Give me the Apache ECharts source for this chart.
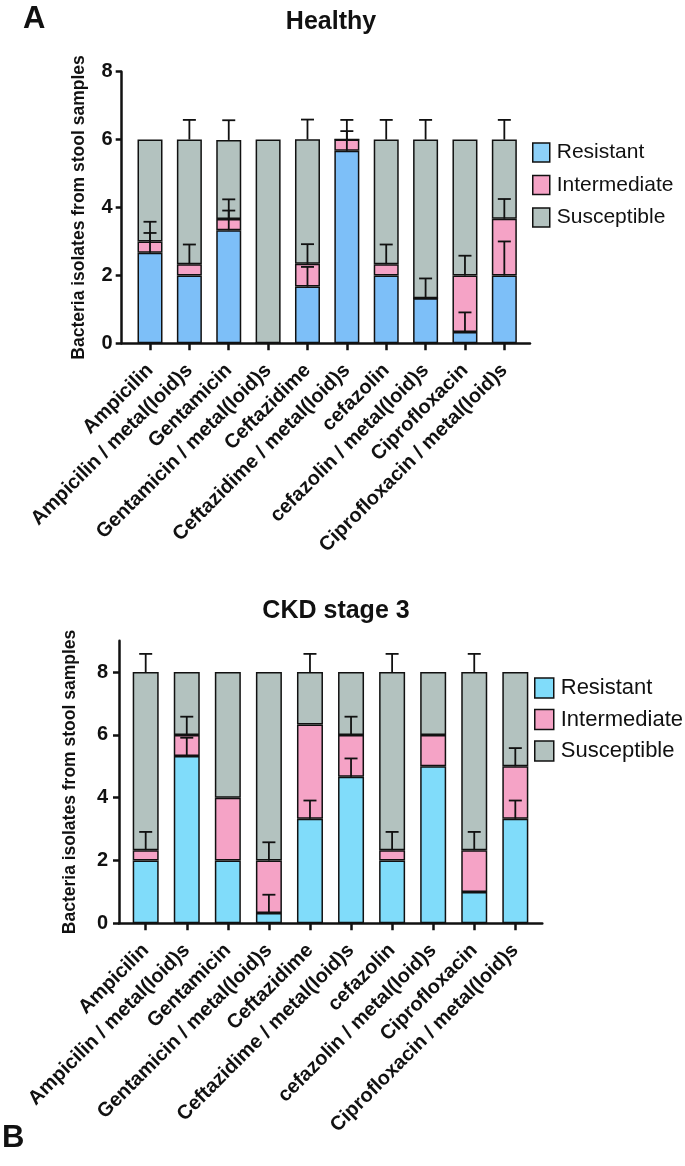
<!DOCTYPE html>
<html>
<head>
<meta charset="utf-8">
<script src="https://cdn.jsdelivr.net/npm/echarts@6/dist/echarts.min.js"></script>
<style>
html,body{margin:0;padding:0;background:#fff;}
#chart{width:685px;height:1166px;}
</style>
</head>
<body>
<div id="chart"></div>
<script>
// ---- Data ----
var categories = ['Ampicilin', 'Ampicilin / metal(loid)s', 'Gentamicin', 'Gentamicin / metal(loid)s',
  'Ceftazidime', 'Ceftazidime / metal(loid)s', 'cefazolin', 'cefazolin / metal(loid)s',
  'Ciprofloxacin', 'Ciprofloxacin / metal(loid)s'];
var seriesNames = ['Resistant', 'Intermediate', 'Susceptible'];

// Healthy
var healthyResistant    = [2.67, 2, 3.33, 0, 1.67, 5.67, 2, 1.33, 0.33, 2];
var healthyIntermediate = [0.33, 0.33, 0.33, 0, 0.67, 0.33, 0.33, 0, 1.67, 1.67];
var healthySusceptible  = [3, 3.67, 2.33, 6, 3.67, 0, 3.67, 4.67, 4, 2.33];
var healthyErrResistant    = [0.58, null, 0.58, null, 0.58, 0.58, null, 0.58, 0.58, 1.0];
var healthyErrIntermediate = [0.58, 0.58, 0.58, null, 0.58, 0.58, 0.58, null, 0.58, 0.58];
var healthyErrSusceptible  = [null, 0.58, 0.58, null, 0.58, null, 0.58, 0.58, null, 0.58];

// CKD stage 3
var ckdResistant    = [2, 5.33, 2, 0.33, 3.33, 4.67, 2, 5, 1, 3.33];
var ckdIntermediate = [0.33, 0.67, 2, 1.67, 3, 1.33, 0.33, 1, 1.33, 1.67];
var ckdSusceptible  = [5.67, 2, 4, 6, 1.67, 2, 5.67, 2, 5.67, 3];
var ckdErrResistant    = [null, 0.58, null, 0.58, 0.58, 0.58, null, null, null, 0.58];
var ckdErrIntermediate = [0.58, 0.58, null, 0.58, null, 0.58, 0.58, null, 0.58, 0.58];
var ckdErrSusceptible  = [0.58, null, null, null, 0.58, null, 0.58, null, 0.58, null];

var healthyTicks = [0, 2, 4, 6, 8];
var ckdTicks = [0, 2, 4, 6, 8];

// ---- Styles ----
var FONT = 'Liberation Sans, Arial, Helvetica, sans-serif';
var cTopR = '#7dbff8', cBotR = '#80dcfa', cI = '#f5a3c6', cS = '#b3c2bf';
var idx = categories.map(function (c, i) { return i; });

// value first (stacked dimension), category index second
function pairs(vals) { return vals.map(function (v, i) { return [v, i]; }); }

function errData(segs, errs) {
  var out = [];
  for (var i = 0; i < categories.length; i++) {
    var cum = 0;
    for (var k = 0; k < segs.length; k++) {
      cum += segs[k][i];
      if (errs[k][i] != null) out.push([i, cum, cum + errs[k][i]]);
    }
  }
  return out;
}

function errSeries(xi, data) {
  return {
    type: 'custom', xAxisIndex: xi, yAxisIndex: xi, z: 5, silent: true,
    data: data,
    encode: { x: 0, y: [1, 2] },
    renderItem: function (params, api) {
      var b = api.coord([api.value(0), api.value(1)]);
      var t = api.coord([api.value(0), api.value(2)]);
      var hw = 6.5;
      var st = { stroke: '#111', lineWidth: 1.8 };
      return { type: 'group', children: [
        { type: 'line', shape: { x1: b[0], y1: b[1], x2: t[0], y2: t[1] }, style: st },
        { type: 'line', shape: { x1: t[0] - hw, y1: t[1], x2: t[0] + hw, y2: t[1] }, style: st }
      ]};
    }
  };
}

function barSeries(name, xi, vals, color, bw) {
  return {
    name: name, type: 'bar', stack: 'g' + xi, xAxisIndex: xi, yAxisIndex: xi,
    barWidth: bw, data: pairs(vals), encode: { x: 1, y: 0 },
    itemStyle: { color: color, borderColor: '#111', borderWidth: 1.5 },
    emphasis: { disabled: true }
  };
}

function xAxisCfg(gi, min, max) {
  return {
    type: 'value', gridIndex: gi, min: min, max: max,
    splitLine: { show: false },
    axisLine: { show: true, onZero: false, lineStyle: { color: '#111', width: 2.5 } },
    axisTick: { show: true, length: 7, customValues: idx, lineStyle: { color: '#111', width: 2.5 } },
    axisLabel: {
      customValues: idx, rotate: 45, margin: 24, color: '#111',
      fontFamily: FONT, fontWeight: 'bold', fontSize: 20,
      formatter: function (v) { return categories[Math.round(v)]; }
    }
  };
}

function yAxisCfg(gi, max, ticks, gap, margin) {
  return {
    type: 'value', gridIndex: gi, min: 0, max: max,
    name: 'Bacteria isolates from stool samples', nameLocation: 'middle', nameGap: gap,
    nameTextStyle: { fontFamily: FONT, fontWeight: 'bold', fontSize: 17.5, color: '#111' },
    splitLine: { show: false },
    axisLine: { show: true, onZero: false, lineStyle: { color: '#111', width: 2.5 } },
    axisTick: { show: true, length: 6, customValues: ticks, lineStyle: { color: '#111', width: 2.5 } },
    axisLabel: { customValues: ticks, margin: margin, color: '#111', fontFamily: FONT, fontWeight: 'bold', fontSize: 20 }
  };
}

var chart = echarts.init(document.getElementById('chart'), null, { renderer: 'canvas' });

var option = {
  backgroundColor: '#fff',
  animation: false,
  title: [
    { text: 'Healthy', left: 326, top: 5, textAlign: 'center',
      textStyle: { fontFamily: FONT, fontWeight: 'bold', fontSize: 25, color: '#111' } },
    { text: 'CKD stage 3', left: 331, top: 594, textAlign: 'center',
      textStyle: { fontFamily: FONT, fontWeight: 'bold', fontSize: 25, color: '#111' } }
  ],
  graphic: [
    { type: 'text', left: 23, top: 4, style: { text: 'A', fontFamily: FONT, fontWeight: 'bold', fontSize: 31, fill: '#111' } },
    { type: 'text', left: 2, top: 1123, style: { text: 'B', fontFamily: FONT, fontWeight: 'bold', fontSize: 31, fill: '#111' } }
  ],
  legend: [
    { orient: 'vertical', left: 527, top: 137, itemWidth: 17, itemHeight: 19, itemGap: 11.5,
      selectedMode: false, icon: 'rect',
      textStyle: { fontFamily: FONT, fontSize: 21, color: '#111', padding: [0, 0, 0, 2] },
      data: [
        { name: 'Resistant', itemStyle: { color: '#8dd0f8', borderColor: '#111', borderWidth: 1.5 } },
        { name: 'Intermediate', itemStyle: { color: cI, borderColor: '#111', borderWidth: 1.5 } },
        { name: 'Susceptible', itemStyle: { color: cS, borderColor: '#111', borderWidth: 1.5 } }
      ] },
    { orient: 'vertical', left: 529, top: 672, itemWidth: 19, itemHeight: 20, itemGap: 9.5,
      selectedMode: false, icon: 'rect',
      textStyle: { fontFamily: FONT, fontSize: 22, color: '#111', padding: [0, 0, 0, 2] },
      data: [
        { name: 'Resistant', itemStyle: { color: cBotR, borderColor: '#111', borderWidth: 1.5 } },
        { name: 'Intermediate', itemStyle: { color: cI, borderColor: '#111', borderWidth: 1.5 } },
        { name: 'Susceptible', itemStyle: { color: cS, borderColor: '#111', borderWidth: 1.5 } }
      ] }
  ],
  grid: [
    { left: 121.7, top: 71.7, width: 408.3, height: 271.6 },
    { left: 119, top: 640.7, width: 423.3, height: 282.6 }
  ],
  xAxis: [ xAxisCfg(0, -0.719, 9.652), xAxisCfg(1, -0.65, 9.657) ],
  yAxis: [ yAxisCfg(0, 8, healthyTicks, 34, 9), yAxisCfg(1, 9, ckdTicks, 40, 11) ],
  series: [
    barSeries(seriesNames[0], 0, healthyResistant, cTopR, 25),
    barSeries(seriesNames[1], 0, healthyIntermediate, cI, 25),
    barSeries(seriesNames[2], 0, healthySusceptible, cS, 25),
    errSeries(0, errData([healthyResistant, healthyIntermediate, healthySusceptible],
                         [healthyErrResistant, healthyErrIntermediate, healthyErrSusceptible])),
    barSeries(seriesNames[0], 1, ckdResistant, cBotR, 26),
    barSeries(seriesNames[1], 1, ckdIntermediate, cI, 26),
    barSeries(seriesNames[2], 1, ckdSusceptible, cS, 26),
    errSeries(1, errData([ckdResistant, ckdIntermediate, ckdSusceptible],
                         [ckdErrResistant, ckdErrIntermediate, ckdErrSusceptible]))
  ]
};
chart.setOption(option);
</script>
</body>
</html>
